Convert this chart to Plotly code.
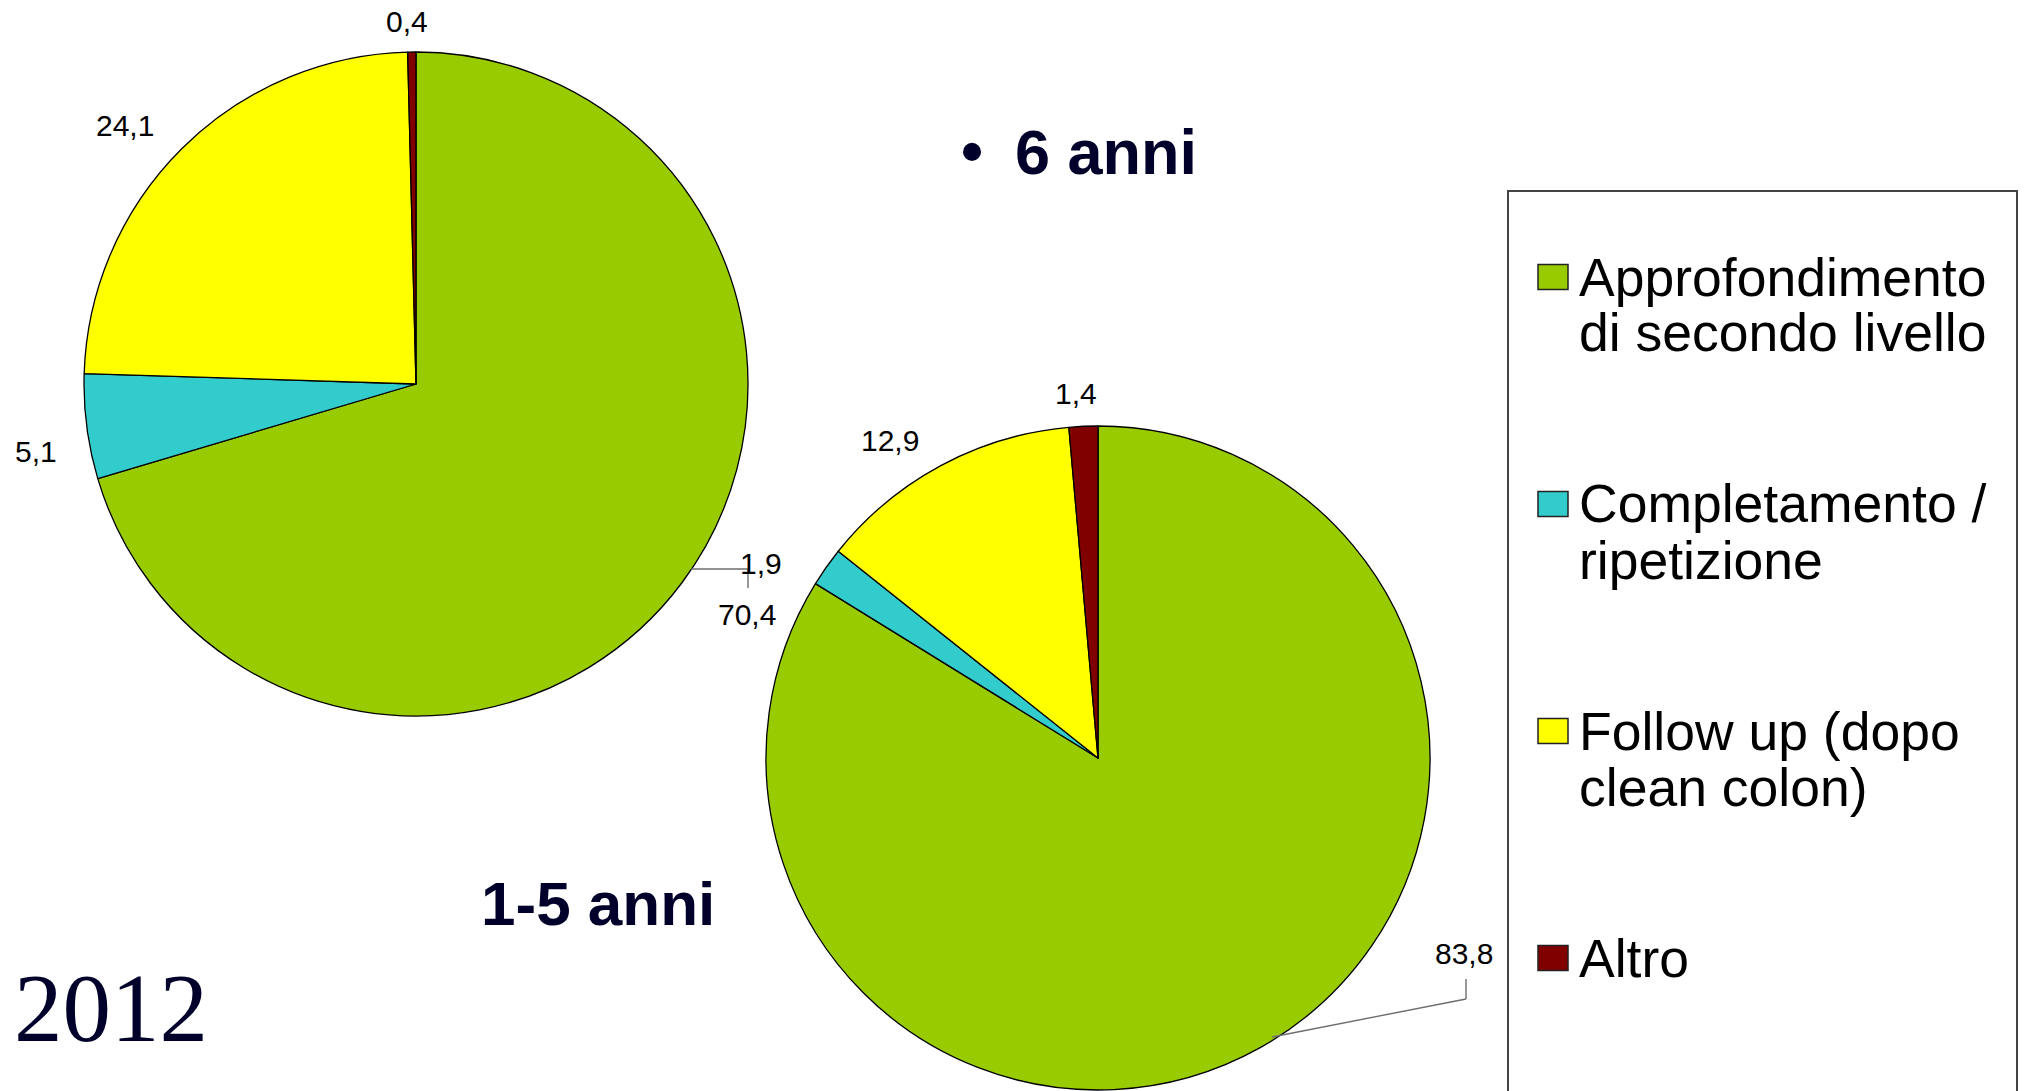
import plotly.graph_objects as go

# Categories, colours and shares (%) for the two age groups
CATEGORIES = [
    "Approfondimento di secondo livello",
    "Completamento / ripetizione",
    "Follow up (dopo clean colon)",
    "Altro",
]
LEGEND_LINES = [
    ["Approfondimento", "di secondo livello"],
    ["Completamento /", "ripetizione"],
    ["Follow up (dopo", "clean colon)"],
    ["Altro"],
]
COLORS = ["#99cc00", "#33cccc", "#ffff00", "#800000"]
VALUES_6_ANNI = [70.4, 5.1, 24.1, 0.4]
VALUES_1_5_ANNI = [83.8, 1.9, 12.9, 1.4]

W, H = 2027, 1091
SANS = "Liberation Sans, Arial, sans-serif"
SERIF = "Liberation Serif, Times New Roman, serif"
NAVY = "#00002a"


def px(x, y):
    """Pixel position -> paper coordinates."""
    return x / W, 1 - y / H


def fmt(v):
    return f"{v:.1f}".replace(".", ",")


def pie_domain(cx, cy, r):
    x0, y1 = px(cx - r, cy - r)
    x1, y0 = px(cx + r, cy + r)
    return dict(x=[max(x0, 0), min(x1, 1)], y=[max(y0, 0), min(y1, 1)])


fig = go.Figure()

pies = [
    (VALUES_6_ANNI, (416, 384, 332)),
    (VALUES_1_5_ANNI, (1098, 758, 332)),
]
for values, (cx, cy, r) in pies:
    fig.add_trace(go.Pie(
        labels=CATEGORIES,
        values=values,
        sort=False,
        direction="clockwise",
        rotation=0,
        textinfo="none",
        marker=dict(colors=COLORS, line=dict(color="#000000", width=1.3)),
        domain=pie_domain(cx, cy, r),
        showlegend=False,
        hovertemplate="%{label}: %{value:.1f}<extra></extra>",
    ))

annotations = []
shapes = []


def add_text(text, x, y, size, color="#000000", family=SANS, xanchor="center", bold=False):
    xp, yp = px(x, y)
    annotations.append(dict(
        text=f"<b>{text}</b>" if bold else text,
        x=xp, y=yp, xref="paper", yref="paper",
        xanchor=xanchor, yanchor="middle", showarrow=False,
        font=dict(family=family, size=size, color=color),
    ))


def add_line(x0, y0, x1, y1, color="#6e6e6e", width=1.4):
    a0, b0 = px(x0, y0)
    a1, b1 = px(x1, y1)
    shapes.append(dict(type="line", xref="paper", yref="paper",
                       x0=a0, y0=b0, x1=a1, y1=b1,
                       line=dict(color=color, width=width)))


# Value labels of the "6 anni" pie (green, cyan, yellow, dark red)
label_pos_6 = [(747, 614), (36, 451), (125, 126), (407, 21)]
for v, (x, y) in zip(VALUES_6_ANNI, label_pos_6):
    add_text(fmt(v), x, y, 30)
add_line(691, 569, 748, 569)
add_line(748, 569, 748, 588)

# Value labels of the "1-5 anni" pie
label_pos_15 = [(1464, 953), (761, 563), (890, 440), (1076, 393)]
for v, (x, y) in zip(VALUES_1_5_ANNI, label_pos_15):
    add_text(fmt(v), x, y, 30)
add_line(1272, 1037, 1466, 999)
add_line(1466, 999, 1466, 979)

# Titles
add_text("•", 972, 151, 63, color=NAVY, bold=True)
add_text("6 anni", 1013, 152, 63, color=NAVY, xanchor="left", bold=True)
add_text("1-5 anni", 479, 903, 62, color=NAVY, xanchor="left", bold=True)
add_text("2012", 12, 1008, 97, color=NAVY, family=SERIF, xanchor="left")

# Legend box with colour swatches
bx0, by0 = px(1508, 191)
bx1, by1 = px(2017, H + 10)
shapes.append(dict(type="rect", xref="paper", yref="paper",
                   x0=bx0, y0=by1, x1=bx1, y1=by0,
                   line=dict(color="#444444", width=2), fillcolor="rgba(0,0,0,0)"))

entry_y = [277, 504, 731, 958]
for lines, color, y in zip(LEGEND_LINES, COLORS, entry_y):
    sx0, sy0 = px(1538, y - 12.5)
    sx1, sy1 = px(1568, y + 12.5)
    shapes.append(dict(type="rect", xref="paper", yref="paper",
                       x0=sx0, y0=sy1, x1=sx1, y1=sy0,
                       line=dict(color="#222222", width=1.5), fillcolor=color))
    for i, line in enumerate(lines):
        add_text(line, 1577, y + i * 56, 53.5, xanchor="left")

fig.update_layout(
    width=W, height=H,
    margin=dict(l=0, r=0, t=0, b=0),
    paper_bgcolor="#ffffff",
    plot_bgcolor="#ffffff",
    annotations=annotations,
    shapes=shapes,
    showlegend=False,
)

fig.write_html("out.html", config={"displayModeBar": False})
